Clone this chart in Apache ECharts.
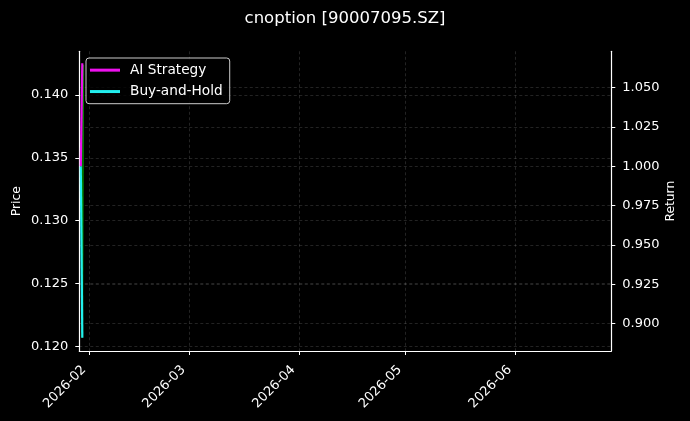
<!DOCTYPE html>
<html><head><meta charset="utf-8">
<script src="https://cdn.jsdelivr.net/npm/echarts@6/dist/echarts.min.js"></script>
<style>html,body{margin:0;padding:0;background:#000}#c{width:690px;height:421px}</style>
</head><body><div id="c"></div>
<script>
const priceDates = ['2026-01-29T22:00', '2026-01-30T05:00'];
const price = [0.1207, 0.1424];
const returnDates = ['2026-01-29T11:45', '2026-01-29T22:00'];
const aiStrategy = [1.000, 1.0655];
const buyHold = [1.000, 0.891];
const xTicks = ['2026-02-01T00:00', '2026-03-01T00:00', '2026-04-01T00:00', '2026-05-01T00:00', '2026-06-01T00:00'];
const priceTicks = [0.120, 0.125, 0.130, 0.135, 0.140];
const returnTicks = [0.900, 0.925, 0.950, 0.975, 1.000, 1.025, 1.050];
const xRange = ['2026-01-29T01:40', '2026-06-28T01:40'];

const FONT = 'DejaVu Sans';
const ts = s => new Date(s).getTime();
const xTickVals = xTicks.map(ts);
const gridLine = { show: true, lineStyle: { color: 'rgba(255,255,255,0.2)', type: [3, 2.5], width: 0.7 } };
const axisLine = { show: true, onZero: false, lineStyle: { color: '#ffffff', width: 1.2 } };
const axisTick = (vals) => ({ show: true, customValues: vals, length: 4, lineStyle: { color: '#ffffff', width: 1 } });
const pad = n => (n < 10 ? '0' : '') + n;

const chart = echarts.init(document.getElementById('c'), null, { renderer: 'canvas' });
chart.setOption({
  backgroundColor: '#000000',
  animation: false,
  textStyle: { fontFamily: FONT },
  title: {
    text: 'cnoption [90007095.SZ]', left: 'center', top: 5,
    textStyle: { color: '#ffffff', fontSize: 16.5, fontWeight: 'normal', fontFamily: FONT }
  },
  legend: {
    left: 86, top: 58, orient: 'vertical',
    backgroundColor: 'rgba(0,0,0,0.8)', borderColor: '#cccccc', borderWidth: 1, borderRadius: 3,
    padding: [4.3, 7, 4.3, 4], itemGap: 5.7, itemWidth: 30, itemHeight: 3,
    icon: 'rect',
    textStyle: { color: '#ffffff', fontSize: 13.7, fontFamily: FONT, lineHeight: 15.7, padding: [0, 0, 0, 5] },
    data: ['AI Strategy', 'Buy-and-Hold']
  },
  grid: { left: 79.3, right: 78.7, top: 51.3, bottom: 70, containLabel: false },
  xAxis: {
    type: 'value',
    min: ts(xRange[0]), max: ts(xRange[1]),
    axisLine: axisLine,
    axisTick: axisTick(xTickVals),
    splitLine: gridLine,
    axisLabel: {
      customValues: xTickVals, rotate: 45, margin: 11, padding: [0, 8, 0, 0],
      color: '#ffffff', fontSize: 13, fontFamily: FONT,
      formatter: v => { const d = new Date(v); return d.getFullYear() + '-' + pad(d.getMonth() + 1); }
    }
  },
  yAxis: [
    {
      type: 'value', position: 'left', min: 0.11963, max: 0.14348,
      name: 'Price', nameLocation: 'middle', nameGap: 56, nameRotate: 90, nameMoveOverlap: false,
      nameTextStyle: { color: '#ffffff', fontSize: 12.3, fontFamily: FONT },
      axisLine: axisLine, axisTick: axisTick(priceTicks), splitLine: gridLine,
      axisLabel: { customValues: priceTicks, color: '#ffffff', fontSize: 13, fontFamily: FONT, margin: 11,
        formatter: v => v.toFixed(3) }
    },
    {
      type: 'value', position: 'right', min: 0.88265, max: 1.07314,
      name: 'Return', nameLocation: 'middle', nameGap: 54, nameRotate: 90, nameMoveOverlap: false,
      nameTextStyle: { color: '#ffffff', fontSize: 12.3, fontFamily: FONT },
      axisLine: axisLine, axisTick: axisTick(returnTicks), splitLine: gridLine,
      axisLabel: { customValues: returnTicks, color: '#ffffff', fontSize: 13, fontFamily: FONT, margin: 11,
        formatter: v => v.toFixed(3) }
    }
  ],
  series: [
    {
      name: 'Price', type: 'line', yAxisIndex: 0, showSymbol: false,
      data: priceDates.map((d, i) => [ts(d), price[i]]),
      lineStyle: { color: 'rgba(0,230,0,0.6)', width: 1.6 }, itemStyle: { color: 'rgba(0,230,0,0.6)' }
    },
    {
      name: 'AI Strategy', type: 'line', yAxisIndex: 1, showSymbol: false,
      data: returnDates.map((d, i) => [ts(d), aiStrategy[i]]),
      lineStyle: { color: '#ee11ee', width: 2.2 }, itemStyle: { color: '#ee11ee' }
    },
    {
      name: 'Buy-and-Hold', type: 'line', yAxisIndex: 1, showSymbol: false,
      data: returnDates.map((d, i) => [ts(d), buyHold[i]]),
      lineStyle: { color: '#22eeee', width: 2.2 }, itemStyle: { color: '#22eeee' }
    }
  ]
});
</script></body></html>
